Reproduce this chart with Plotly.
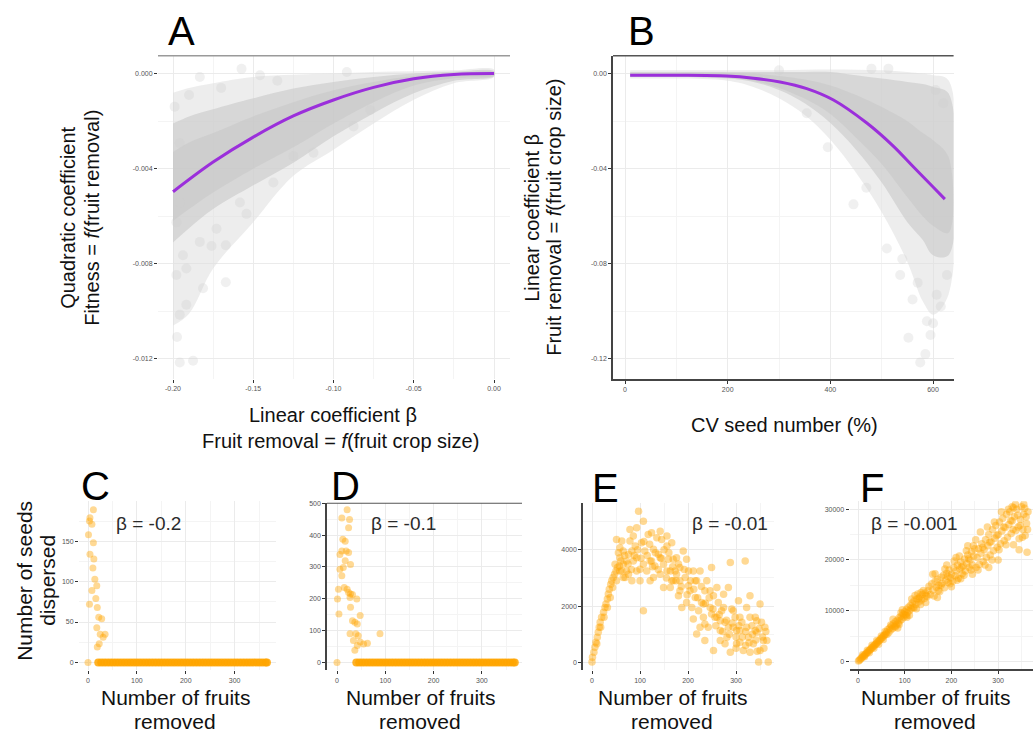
import plotly.graph_objects as go

W, H = 1033, 735
FONT = "Arial, Liberation Sans, sans-serif"
GRID = "#EBEBEB"
MINOR = "#F4F4F4"
PURPLE = "#9B2FDB"
ORANGE = "rgba(255,165,0,0.42)"
ORANGE_SOLID = "rgba(255,165,0,0.85)"

# ---------------- Panel A: quadratic vs linear coefficient ----------------
a_env_x = [-0.2, -0.19, -0.175, -0.15, -0.125, -0.1, -0.075, -0.05, -0.025, 0.0]
a_outer_top = [-0.0008, -0.0006, -0.0004, -0.00014, -0.00005, 0.0, 0.00007, 0.0001, 0.00014, 0.00017]
a_outer_bot = [-0.0106, -0.0101, -0.0082, -0.00625, -0.0043, -0.0032, -0.0021, -0.0011, -0.0004, -0.00014]
a_core_top = [-0.0021, -0.0018, -0.0015, -0.00104, -0.00063, -0.00035, -0.00014, 0.0, 0.00008, 0.0001]
a_core_bot = [-0.0071, -0.0065, -0.0057, -0.0047, -0.00375, -0.00264, -0.00167, -0.00083, -0.0003, -0.00011]
a_inner_top = [-0.0033, -0.0029, -0.0025, -0.0018, -0.0012, -0.0007, -0.00035, -0.0001, 0.0, 0.00005]
a_inner_bot = [-0.0062, -0.0057, -0.005, -0.004, -0.0031, -0.0021, -0.0012, -0.0005, -0.0002, -0.00008]
a_sparse = [(-0.1958, -0.01215), (-0.1875, -0.01208), (-0.1975, -0.01108), (-0.1958, -0.01014),
            (-0.1917, -0.00972), (-0.1813, -0.00903), (-0.1671, -0.00878), (-0.1671, -0.00722),
            (-0.176, -0.00725), (-0.1833, -0.00708), (-0.1542, -0.0059), (-0.125, -0.00347),
            (-0.1573, 0.0002), (-0.1833, -0.00014), (-0.199, -0.00139), (-0.1458, -0.00007),
            (-0.0917, 0.00007), (-0.0771, -0.00153), (-0.1979, -0.00847), (-0.1917, -0.0082),
            (-0.1938, -0.00764), (-0.1729, -0.00653), (-0.1583, -0.00542), (-0.1375, -0.00458),
            (-0.1125, -0.00333), (-0.0875, -0.00222), (-0.1979, -0.00625), (-0.1958, -0.00542),
            (-0.1958, -0.00292), (-0.19, -0.0009), (-0.17, -0.0006), (-0.135, -0.0003)]
a_fit_x = [-0.2, -0.175, -0.15, -0.125, -0.1, -0.075, -0.05, -0.025, 0.0]
a_fit_y = [-0.00497, -0.00372, -0.00267, -0.00178, -0.00111, -0.00058, -0.00022, -0.00004, 0.0]

# ---------------- Panel B: linear coefficient vs CV seed number ----------------
b_env_x = [10, 100, 200, 250, 300, 350, 400, 450, 500, 550, 580, 600, 630]
b_outer_top = [0.0014, 0.0014, 0.0014, 0.0014, 0.0014, 0.0016, 0.0017, 0.0016, 0.0014, 0.0007, 0.0, -0.0007, -0.0028]
b_outer_bot = [-0.0021, -0.0021, -0.003, -0.0056, -0.0104, -0.0174, -0.0278, -0.0417, -0.0583, -0.0792, -0.0958, -0.1014, -0.093]
b_core_top = [0.0007, 0.0007, 0.0007, 0.0007, 0.0007, 0.0007, 0.0007, -0.0007, -0.0021, -0.0035, -0.0044, -0.0056, -0.0083]
b_core_bot = [-0.0014, -0.0014, -0.0021, -0.0035, -0.0069, -0.0125, -0.0208, -0.032, -0.0458, -0.0625, -0.07, -0.0764, -0.0764]
b_inner_top = [0.0003, 0.0003, 0.0003, 0.0, -0.001, -0.0025, -0.005, -0.009, -0.014, -0.02, -0.025, -0.028, -0.035]
b_inner_bot = [-0.0012, -0.0012, -0.0017, -0.003, -0.006, -0.0105, -0.017, -0.027, -0.038, -0.052, -0.06, -0.064, -0.067]
b_sparse = [(552, -0.1111), (575, -0.1215), (536, -0.0847), (588, -0.1042), (607, -0.093),
            (510, -0.0736), (627, -0.0847), (513, 0.0021), (620, -0.0125), (445, -0.055),
            (354, -0.0167), (412, -0.0097), (300, 0.0014), (480, 0.0021), (560, -0.095),
            (570, -0.088), (595, -0.11), (540, -0.078), (600, -0.105), (615, -0.098),
            (585, -0.118), (605, -0.0069), (470, -0.048), (395, -0.031)]
b_fit_x = [10, 101, 198, 250, 302, 354, 406, 471, 523, 562, 601, 623]
b_fit_y = [-0.0007, -0.0007, -0.001, -0.0019, -0.0035, -0.0063, -0.0111, -0.0208, -0.0306, -0.0393, -0.0479, -0.0528]

# ---------------- Panels C-F: seeds dispersed vs fruits removed ----------------
c_points = [(11, 189), (4, 179), (3, 175), (8, 171), (1, 158), (11, 148), (4, 134), (12, 128),
            (10, 117), (14, 103), (18, 95), (8, 89), (3, 72), (16, 79), (19, 68), (22, 56),
            (28, 54), (18, 43), (25, 35), (35, 35), (23, 23), (19, 19), (31, 31), (0, 0)]
c_zero_x = [21, 27, 33, 39, 45, 51, 57, 63, 69, 75, 81, 87, 93, 99, 105, 111, 117, 123, 129, 135,
            141, 147, 153, 159, 165, 171, 177, 183, 189, 195, 201, 207, 213, 219, 225, 231, 237,
            243, 249, 255, 261, 267, 273, 279, 285, 291, 297, 303, 309, 315, 321, 327, 333, 339,
            345, 351, 357, 363, 366]

d_points = [(21, 480), (10, 454), (26, 449), (24, 423), (12, 387), (17, 381), (10, 350), (19, 350),
            (24, 345), (6, 339), (17, 319), (28, 308), (6, 293), (13, 298), (10, 272), (3, 230),
            (15, 235), (21, 230), (24, 220), (28, 215), (32, 213), (1, 199), (27, 204), (41, 199),
            (28, 173), (4, 152), (48, 147), (32, 131), (37, 126), (42, 121), (27, 90), (39, 90),
            (44, 84), (89, 90), (34, 69), (48, 64), (55, 58), (63, 60), (42, 53), (37, 38), (0, 0)]
d_zero_x = [40, 46, 52, 58, 64, 70, 76, 82, 88, 94, 100, 106, 112, 118, 124, 130, 136, 142, 148,
            154, 160, 166, 172, 178, 184, 190, 196, 202, 208, 214, 220, 226, 232, 238, 244, 250,
            256, 262, 268, 274, 280, 286, 292, 298, 304, 310, 316, 322, 328, 334, 340, 346, 352,
            358, 364, 368]

e_points = [(0, 10), (1, 187), (4, 364), (6, 540), (8, 717), (11, 894), (13, 1071), (15, 1247),
            (17, 1424), (20, 1601), (24, 1778), (27, 1954), (29, 2072), (32, 2249), (34, 2426),
            (36, 2602), (39, 2779), (41, 2897), (44, 3015), (47, 3133), (50, 3250), (53, 3368),
            (57, 3427), (10, 658), (18, 1247), (25, 1601), (32, 1954), (38, 2308), (43, 2661),
            (51, 4369), (55, 3898), (58, 3721), (65, 3486), (72, 3250), (76, 3132), (79, 4722),
            (86, 4487), (90, 4134), (93, 3721), (97, 5370), (100, 3309), (103, 4251), (110, 3957),
            (114, 3250), (117, 4546), (121, 2897), (128, 4016), (131, 3427), (135, 4428),
            (142, 3132), (145, 4369), (149, 2661), (156, 4134), (159, 3662), (163, 3250),
            (166, 4251), (169, 2897), (176, 3721), (180, 2367), (183, 3368), (190, 3957),
            (194, 3015), (197, 3662), (201, 2720), (204, 2543), (208, 1954), (211, 3250),
            (215, 2308), (218, 2897), (222, 1836), (225, 3250), (228, 2131), (232, 1601),
            (235, 2543), (239, 2897), (242, 1247), (246, 1954), (249, 3368), (253, 2367),
            (256, 1601), (260, 2661), (263, 2131), (267, 1130), (270, 1836), (274, 2425),
            (277, 1424), (281, 894), (284, 2661), (288, 3545), (291, 1895), (294, 1247),
            (298, 1601), (301, 658), (305, 2190), (308, 1130), (312, 1424), (315, 423),
            (319, 3603), (322, 1954), (326, 894), (329, 2367), (333, 1306), (336, 658),
            (340, 1601), (343, 1071), (347, 10), (350, 2072), (353, 1424), (357, 776),
            (360, 1247), (364, 776), (367, 10), (350, 423), (329, 364), (308, 717), (288, 364),
            (277, 658), (267, 776), (253, 423), (235, 776), (225, 1247), (211, 1542), (197, 2131),
            (183, 2897), (169, 3662), (156, 4487), (142, 4664), (124, 4605), (107, 5017),
            (93, 4781), (76, 3839), (65, 3957), (58, 4075), (48, 3486), (51, 2897), (62, 3250),
            (69, 3015), (83, 2897), (86, 3603), (100, 2897), (107, 1836), (124, 3603),
            (138, 3839), (149, 3486), (163, 2661), (173, 3250), (187, 1954), (201, 3250),
            (215, 2897), (232, 2072), (246, 2543), (260, 1601), (274, 1954), (294, 1836),
            (308, 1601), (329, 1601), (343, 1483), (340, 1130), (322, 1247), (301, 1130),
            (284, 1247), (267, 1483), (249, 1719), (235, 1365), (218, 1012), (58, 3250),
            (72, 3603), (83, 3957), (93, 3250), (107, 3486), (121, 3603), (128, 3015),
            (142, 3721), (156, 3250), (166, 2897), (176, 3132), (183, 2543), (62, 4310),
            (79, 4310), (65, 3015), (60, 3600), (68, 3800), (75, 3500), (82, 3300), (88, 3800),
            (95, 4000), (102, 3700), (108, 4300), (115, 3800), (120, 4200), (126, 3400),
            (132, 3900), (138, 3300), (144, 3700), (150, 4000), (155, 3000), (160, 3900),
            (168, 3400), (175, 2900), (180, 3500), (186, 2700), (192, 3300), (198, 2400),
            (205, 2900), (212, 2600), (220, 2300), (228, 2700), (236, 2100), (244, 2300),
            (252, 1900), (258, 1300), (265, 1700), (272, 1100), (280, 1500), (286, 1000),
            (292, 1400), (300, 900), (306, 1300), (313, 900), (320, 1100), (327, 700),
            (334, 1000), (341, 800), (348, 1200), (355, 900), (362, 1100), (358, 500),
            (344, 400), (320, 600), (300, 500)]

f_points = [(1, 100), (3, 250), (5, 420), (7, 600), (9, 800), (11, 950), (13, 1150), (15, 1300),
            (17, 1500), (19, 1700), (21, 1850), (23, 2100), (25, 2250), (27, 2400), (29, 2650),
            (31, 2800), (33, 2950), (35, 3200), (37, 3350), (39, 3500), (41, 3700), (43, 3900),
            (45, 4050), (47, 4200), (49, 4500), (51, 4600), (53, 4800), (55, 5100), (57, 5200),
            (59, 5400), (10, 1300), (14, 900), (20, 2200), (24, 1700), (30, 3200), (34, 2600),
            (40, 4100), (44, 3400), (50, 5000), (54, 4300), (58, 5900), (62, 5300),
            (61, 5800), (64, 6300), (66, 5700), (68, 6600), (70, 6200), (72, 7000), (74, 6500),
            (76, 7400), (78, 6900), (80, 7800), (82, 7200), (84, 8100), (86, 7500), (88, 8600),
            (90, 8000), (92, 8900), (94, 8300), (96, 9400), (98, 8700), (100, 9800), (102, 9200),
            (104, 10300), (106, 9600), (108, 10700), (110, 10000), (112, 11000), (114, 10400),
            (116, 11500), (118, 10700), (120, 11900), (124, 11200), (126, 12300), (130, 11700),
            (132, 12700), (136, 12100), (138, 13200), (142, 12400), (144, 13500), (148, 12800),
            (150, 14000), (75, 8300), (85, 6600), (95, 10200), (105, 8700), (115, 12300),
            (125, 10400), (135, 13600), (145, 11600), (128, 13300), (110, 9100),
            (152, 14800), (155, 13200), (158, 15300), (160, 14100), (163, 12900), (165, 15800),
            (168, 14600), (170, 16200), (173, 15000), (175, 13800), (178, 16600), (180, 15400),
            (183, 17000), (185, 14500), (188, 16000), (190, 17400), (193, 15600), (195, 18000),
            (198, 16500), (200, 17200), (203, 15800), (205, 18500), (208, 16900), (210, 17800),
            (213, 19000), (215, 16400), (218, 18200), (220, 19600), (223, 17300), (225, 18800),
            (228, 20200), (230, 17800), (233, 19300), (235, 21000), (238, 18500), (240, 20000),
            (243, 21600), (245, 19000), (248, 20800), (250, 22200), (160, 17200), (170, 12600),
            (190, 19000), (200, 14700), (210, 20500), (220, 16300), (235, 22800), (245, 17200),
            (253, 18500), (255, 20500), (258, 22200), (260, 19100), (263, 21300), (265, 23200),
            (268, 19700), (270, 22000), (273, 24000), (275, 20500), (278, 22800), (280, 25000),
            (283, 21000), (285, 23600), (288, 26000), (290, 21800), (293, 24300), (295, 26800),
            (298, 22500), (300, 25000), (303, 27500), (305, 23200), (308, 25700), (310, 28200),
            (313, 23800), (315, 26400), (318, 29000), (320, 24500), (323, 27000), (325, 29500),
            (328, 25200), (330, 27700), (333, 23000), (335, 28500), (338, 25800), (340, 30000),
            (343, 26500), (345, 24200), (348, 28000), (350, 30500), (353, 26000), (355, 29000),
            (358, 24800), (360, 28500), (363, 26000), (362, 21500), (345, 22000), (300, 20000),
            (280, 18500), (330, 30500), (355, 31000), (333, 30300), (252, 24000), (257, 18000),
            (262, 25500), (267, 22500), (272, 19000), (277, 26500), (282, 23500), (287, 20000),
            (292, 27500), (297, 24800), (302, 22000), (307, 29500), (312, 26500), (317, 23000),
            (322, 30000), (327, 27800), (332, 26000), (337, 31000), (342, 28800), (347, 26800),
            (352, 24500), (357, 30200), (361, 27200), (364, 29500), (165, 17300), (172, 14000),
            (178, 15000), (186, 18200), (192, 16800), (197, 15300), (206, 19800), (212, 16000),
            (217, 20800), (222, 18600), (227, 17000), (232, 21800), (237, 20300), (242, 18000),
            (247, 22800), (120, 10600), (122, 13000), (134, 11200), (140, 14000), (146, 13000),
            (130, 12400), (88, 7300), (92, 9600), (98, 9200), (104, 9000), (80, 6800), (70, 7200)]

beta_labels = ["β = -0.2", "β = -0.1", "β = -0.01", "β = -0.001"]

# ---------------- helpers ----------------
def fx(px):
    return px / W


def fy(py):
    return 1 - py / H


def band(xs, top, bot, color, ax):
    return go.Scatter(x=xs + xs[::-1], y=top + bot[::-1], fill="toself", fillcolor=color,
                      mode="lines", line=dict(width=0, shape="spline"), hoverinfo="skip",
                      xaxis="x" + ax, yaxis="y" + ax)


def dots(pts, color, size, ax):
    xs = [p[0] for p in pts]
    ys = [p[1] for p in pts]
    return go.Scatter(x=xs, y=ys, mode="markers", marker=dict(color=color, size=size, line=dict(width=0)),
                      xaxis="x" + ax, yaxis="y" + ax)


fig = go.Figure()

CLOUD_OUTER = "rgba(222,222,222,0.55)"
CLOUD_CORE = "rgba(205,205,205,0.7)"
CLOUD_INNER = "rgba(196,196,196,0.45)"
CLOUD_DOT = "rgba(205,205,205,0.3)"

# Panel A
fig.add_trace(band(a_env_x, a_outer_top, a_outer_bot, CLOUD_OUTER, ""))
fig.add_trace(band(a_env_x, a_core_top, a_core_bot, CLOUD_CORE, ""))
fig.add_trace(band(a_env_x, a_inner_top, a_inner_bot, CLOUD_INNER, ""))
fig.add_trace(dots(a_sparse, CLOUD_DOT, 10, ""))
fig.add_trace(go.Scatter(x=a_fit_x, y=a_fit_y, mode="lines", line=dict(color=PURPLE, width=3, shape="spline"),
                         xaxis="x", yaxis="y"))

# Panel B
fig.add_trace(band(b_env_x, b_outer_top, b_outer_bot, CLOUD_OUTER, "2"))
fig.add_trace(band(b_env_x, b_core_top, b_core_bot, CLOUD_CORE, "2"))
fig.add_trace(band(b_env_x, b_inner_top, b_inner_bot, CLOUD_INNER, "2"))
fig.add_trace(dots(b_sparse, CLOUD_DOT, 10, "2"))
fig.add_trace(go.Scatter(x=b_fit_x, y=b_fit_y, mode="lines", line=dict(color=PURPLE, width=3, shape="spline"),
                         xaxis="x2", yaxis="y2"))

# Panels C-F
fig.add_trace(dots(c_points, ORANGE, 7, "3"))
fig.add_trace(dots([(x, 0) for x in c_zero_x], ORANGE_SOLID, 8, "3"))
fig.add_trace(dots(d_points, ORANGE, 7, "4"))
fig.add_trace(dots([(x, 0) for x in d_zero_x], ORANGE_SOLID, 8, "4"))
fig.add_trace(dots(e_points, ORANGE, 7.5, "5"))
fig.add_trace(dots(f_points, ORANGE, 7.5, "6"))

# ---------------- axes ----------------
panels = {
    "": (158, 510, 52, 377),
    "2": (613, 953.6, 52, 377),
    "3": (79, 276, 500, 670),
    "4": (327, 522, 502, 670),
    "5": (583, 774, 502, 670),
    "6": (849.5, 1033, 500, 669),
}

axis_spec = {
    # key: (x range, x ticks, x labels, x minor, y range, y ticks, y labels, y minor, xline, yline)
    "": ([-0.20935, 0.00997], [-0.2, -0.15, -0.1, -0.05, 0.0], ["-0.20", "-0.15", "-0.10", "-0.05", "0.00"],
         [-0.175, -0.125, -0.075, -0.025],
         [-0.012845, 0.000753], [0.0, -0.004, -0.008, -0.012], ["0.000", "-0.004", "-0.008", "-0.012"],
         [-0.002, -0.006, -0.010], False, False),
    "2": ([-23.4, 640], [0, 200, 400, 600], ["0", "200", "400", "600"], [100, 300, 500],
          [-0.12845, 0.00753], [0.0, -0.04, -0.08, -0.12], ["0.00", "-0.04", "-0.08", "-0.12"],
          [-0.02, -0.06, -0.10], True, True),
    "3": ([-18.4, 384.5], [0, 100, 200, 300], ["0", "100", "200", "300"], [50, 150, 250, 350],
          [-9.85, 199.5], [0, 50, 100, 150], ["0", "50", "100", "150"], [25, 75, 125, 175], False, False),
    "4": ([-20.7, 383], [0, 100, 200, 300], ["0", "100", "200", "300"], [50, 150, 250, 350],
          [-25, 500], [0, 100, 200, 300, 400, 500], ["0", "100", "200", "300", "400", "500"],
          [50, 150, 250, 350, 450], False, True),
    "5": ([-18.75, 379], [0, 100, 200, 300], ["0", "100", "200", "300"], [50, 150, 250, 350],
          [-283, 5654], [0, 2000, 4000], ["0", "2000", "4000"], [1000, 3000, 5000], False, True),
    "6": ([-18.2, 374.7], [0, 100, 200, 300], ["0", "100", "200", "300"], [50, 150, 250, 350],
          [-1569, 31570], [0, 10000, 20000, 30000], ["0", "10000", "20000", "30000"],
          [5000, 15000, 25000], True, False),
}

layout_axes = {}
for key, (x0, x1, y0, y1) in panels.items():
    xr, xt, xl, xm, yr, yt, yl, ym, xline, yline = axis_spec[key]
    common = dict(showgrid=True, gridcolor=GRID, gridwidth=1, zeroline=False, ticks="outside",
                  ticklen=3, tickwidth=1, tickcolor="#333333",
                  tickfont=dict(family=FONT, size=7, color="#555555"),
                  linecolor="#444444", linewidth=1.5)
    layout_axes["xaxis" + key] = dict(common, domain=[fx(x0), fx(x1)], range=xr, tickvals=xt, ticktext=xl,
                                      minor=dict(tickvals=xm, showgrid=True, gridcolor=MINOR, gridwidth=0.6),
                                      anchor="y" + key, showline=xline)
    layout_axes["yaxis" + key] = dict(common, domain=[fy(y1), fy(y0)], range=yr, tickvals=yt, ticktext=yl,
                                      minor=dict(tickvals=ym, showgrid=True, gridcolor=MINOR, gridwidth=0.6),
                                      anchor="x" + key, showline=yline)

# ---------------- text ----------------
annotations = []


def label(text, px, py, size, angle=0, color="#111111"):
    annotations.append(dict(text=text, x=fx(px), y=fy(py), xref="paper", yref="paper", showarrow=False,
                            xanchor="center", yanchor="middle", textangle=angle,
                            font=dict(family=FONT, size=size, color=color)))


for letter, px, py in [("A", 181, 27), ("B", 641, 27), ("C", 95, 485), ("D", 345, 485),
                       ("E", 605, 487), ("F", 872, 487)]:
    label(letter, px, py, 40, color="#000000")

label("Quadratic coefficient", 68, 215, 20, -90)
label("Fitness = <i>f</i>(fruit removal)", 92, 215, 20, -90)
label("Linear coefficient β", 333, 413, 20)
label("Fruit removal = <i>f</i>(fruit crop size)", 340, 439, 20)
label("Linear coefficient β", 532, 215, 20, -90)
label("Fruit removal = <i>f</i>(fruit crop size)", 554, 215, 20, -90)
label("CV seed number (%)", 784, 423, 20)

label("Number of seeds", 25, 580, 21, -90)
label("dispersed", 48, 580, 21, -90)
for cx in [175, 420, 672, 935]:
    label("Number of fruits", cx, 697, 21)
    label("removed", cx, 721, 21)

for text, px in zip(beta_labels, [148, 403, 730, 914]):
    label(text, px, 522, 19, color="#2B2B2B")

shapes = [
    dict(type="line", xref="paper", yref="paper", x0=fx(158), x1=fx(510), y0=fy(52), y1=fy(52),
         line=dict(color="#9A9A9A", width=1.5)),
    dict(type="line", xref="paper", yref="paper", x0=fx(613), x1=fx(953.6), y0=fy(52), y1=fy(52),
         line=dict(color="#555555", width=1.5)),
    dict(type="line", xref="paper", yref="paper", x0=fx(327), x1=fx(522), y0=fy(502), y1=fy(502),
         line=dict(color="#555555", width=1.2)),
]

fig.update_layout(
    width=W, height=H, margin=dict(l=0, r=0, t=0, b=0),
    paper_bgcolor="white", plot_bgcolor="white", showlegend=False,
    annotations=annotations, shapes=shapes,
    font=dict(family=FONT),
    **layout_axes,
)

fig.write_html("out.html")
